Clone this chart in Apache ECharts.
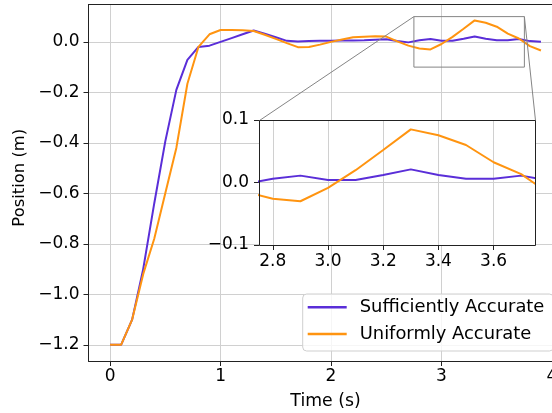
<!DOCTYPE html>
<html>
<head>
<meta charset="utf-8">
<script src="https://cdn.jsdelivr.net/npm/echarts@6/dist/echarts.min.js"></script>
<style>
  html, body { margin: 0; padding: 0; background: #ffffff; }
  #chart { width: 552px; height: 413px; }
</style>
</head>
<body>
<div id="chart"></div>
<script>
// Sample times (s)
const times = [0.0, 0.1, 0.2, 0.3, 0.4, 0.5, 0.6, 0.7, 0.8, 0.9,
               1.0, 1.1, 1.2, 1.3, 1.4, 1.5, 1.6, 1.7, 1.8, 1.9,
               2.0, 2.1, 2.2, 2.3, 2.4, 2.5, 2.6, 2.7, 2.8, 2.9,
               3.0, 3.1, 3.2, 3.3, 3.4, 3.5, 3.6, 3.7, 3.8, 3.9];

// Position (m) for each controller
const sufficientlyAccurate = [-1.2, -1.2, -1.1, -0.9, -0.64, -0.394, -0.19, -0.071, -0.02, -0.015,
                              0.0, 0.015, 0.03, 0.045, 0.032, 0.018, 0.004, 0.001, 0.003, 0.004,
                              0.004, 0.005, 0.005, 0.006, 0.008, 0.01, 0.003, -0.002, 0.006, 0.011,
                              0.004, 0.004, 0.012, 0.021, 0.012, 0.006, 0.006, 0.011, 0.003, 0.0];
const uniformlyAccurate = [-1.2, -1.2, -1.1, -0.92, -0.78, -0.6, -0.42, -0.166, -0.02, 0.03,
                           0.047, 0.047, 0.046, 0.043, 0.028, 0.012, -0.005, -0.021, -0.02, -0.011,
                           0.0, 0.009, 0.018, 0.02, 0.022, 0.021, 0.002, -0.015, -0.026, -0.03,
                           -0.0085, 0.0197, 0.052, 0.085, 0.0755, 0.06, 0.0324, 0.0133, -0.017, -0.034];

const seriesNames = ['Sufficiently Accurate', 'Uniformly Accurate'];
const seriesColors = ['#5a2ed8', '#ff9410'];

// Axis ranges and ticks
const mainXRange = [-0.195, 4.095];
const mainYRange = [-1.264, 0.148];
const mainXTicks = [0, 1, 2, 3, 4];
const mainYTicks = [-1.2, -1.0, -0.8, -0.6, -0.4, -0.2, 0.0];

// Zoomed window shown in the inset
const zoomX = [2.75, 3.75];
const zoomY = [-0.1, 0.1];
const insetXTicks = [2.8, 3.0, 3.2, 3.4, 3.6];
const insetYTicks = [-0.1, 0.0, 0.1];

const FONT = 'DejaVu Sans';
const TICK_FS = 17;
const LEGEND_FS = 17.9;
const SPINE = '#222222';
const GRID = '#d0d0d0';
const GRAY = '#858585';

const pairs = (vals) => times.map((t, i) => [t, vals[i]]);
const fmt1 = (v) => (Math.abs(v) < 1e-9 ? '0.0' : v.toFixed(1)).replace('-', '\u2212');
const fmt0 = (v) => String(Math.round(v)).replace('-', '\u2212');

const tickStyle = { fontFamily: FONT, fontSize: TICK_FS, color: '#000000' };

function valueAxis(opts) {
  return Object.assign({
    type: 'value',
    axisLine: { show: false, onZero: false },
    axisTick: { show: true, inside: false, length: 5, lineStyle: { color: SPINE, width: 1 } },
    splitLine: { show: true, lineStyle: { color: GRID, width: 1 } },
  }, opts);
}

const chart = echarts.init(document.getElementById('chart'), null, { renderer: 'canvas' });

const option = {
  animation: false,
  backgroundColor: '#ffffff',
  grid: [
    // main axes run past the right edge of the canvas
    { left: 88.5, top: 4.5, width: 474, height: 356.5, show: false, containLabel: false, outerBoundsMode: 'none' },
    { left: 259, top: 120, width: 276, height: 125, show: true, backgroundColor: '#ffffff', borderWidth: 0, z: 5,
      containLabel: false, outerBoundsMode: 'none' }
  ],
  xAxis: [
    valueAxis({
      gridIndex: 0, min: mainXRange[0], max: mainXRange[1],
      axisLine: { show: true, onZero: false, lineStyle: { color: SPINE, width: 1 } },
      axisTick: { show: true, inside: false, length: 5, customValues: mainXTicks, lineStyle: { color: SPINE, width: 1 } },
      axisLabel: Object.assign({ customValues: mainXTicks, margin: 7, formatter: fmt0, hideOverlap: false }, tickStyle),
      name: 'Time (s)', nameLocation: 'middle', nameGap: 32,
      nameTextStyle: { fontFamily: FONT, fontSize: 17.3, color: '#000000' }
    }),
    // top spine of the main axes
    {
      type: 'value', gridIndex: 0, position: 'top', min: mainXRange[0], max: mainXRange[1],
      axisLine: { show: true, onZero: false, lineStyle: { color: SPINE, width: 1 } },
      axisTick: { show: false }, axisLabel: { show: false }, splitLine: { show: false }
    },
    valueAxis({
      gridIndex: 1, min: zoomX[0], max: zoomX[1], z: 6,
      axisTick: { show: true, inside: false, length: 5, customValues: insetXTicks, lineStyle: { color: SPINE, width: 1 } },
      axisLabel: Object.assign({ customValues: insetXTicks, margin: 8, formatter: fmt1 }, tickStyle)
    })
  ],
  yAxis: [
    valueAxis({
      gridIndex: 0, min: mainYRange[0], max: mainYRange[1],
      axisLine: { show: true, onZero: false, lineStyle: { color: SPINE, width: 1 } },
      axisTick: { show: true, inside: false, length: 5, customValues: mainYTicks, lineStyle: { color: SPINE, width: 1 } },
      axisLabel: Object.assign({ customValues: mainYTicks, margin: 9, formatter: fmt1 }, tickStyle),
      name: 'Position (m)', nameLocation: 'middle', nameGap: 56,
      nameTextStyle: { fontFamily: FONT, fontSize: 16.4, color: '#000000', padding: [0, 0, 0, 10] }
    }),
    valueAxis({
      gridIndex: 1, min: zoomY[0], max: zoomY[1], z: 6,
      axisTick: { show: true, inside: false, length: 5, customValues: insetYTicks, lineStyle: { color: SPINE, width: 1 } },
      axisLabel: Object.assign({ customValues: insetYTicks, margin: 10, formatter: fmt1 }, tickStyle)
    })
  ],
  legend: {
    data: seriesNames,
    orient: 'vertical',
    left: 302.7, top: 294,
    icon: 'rect',
    itemWidth: 39, itemHeight: 2.6, itemGap: 6.7,
    padding: [3.3, 9, 7, 5],
    backgroundColor: 'rgba(255,255,255,0.8)',
    borderColor: '#cfcfcf', borderWidth: 1, borderRadius: 4,
    textStyle: { fontFamily: FONT, fontSize: LEGEND_FS, color: '#000000', lineHeight: 20, padding: [0, 0, 0, 8] }
  },
  series: [
    {
      name: seriesNames[0], type: 'line', xAxisIndex: 0, yAxisIndex: 0,
      data: pairs(sufficientlyAccurate), symbol: 'none', z: 2,
      lineStyle: { color: seriesColors[0], width: 2 }, itemStyle: { color: seriesColors[0] }
    },
    {
      name: seriesNames[1], type: 'line', xAxisIndex: 0, yAxisIndex: 0,
      data: pairs(uniformlyAccurate), symbol: 'none', z: 3,
      lineStyle: { color: seriesColors[1], width: 2 }, itemStyle: { color: seriesColors[1] }
    },
    // outline of the zoomed window
    {
      type: 'line', xAxisIndex: 0, yAxisIndex: 0, symbol: 'none', z: 4, silent: true,
      data: [[zoomX[0], zoomY[1]], [zoomX[1], zoomY[1]], [zoomX[1], zoomY[0]], [zoomX[0], zoomY[0]], [zoomX[0], zoomY[1]]],
      lineStyle: { color: GRAY, width: 1 }
    },
    {
      name: seriesNames[0], type: 'line', xAxisIndex: 2, yAxisIndex: 1,
      data: pairs(sufficientlyAccurate), symbol: 'none', z: 7, clip: true,
      lineStyle: { color: seriesColors[0], width: 2 }, itemStyle: { color: seriesColors[0] }
    },
    {
      name: seriesNames[1], type: 'line', xAxisIndex: 2, yAxisIndex: 1,
      data: pairs(uniformlyAccurate), symbol: 'none', z: 8, clip: true,
      lineStyle: { color: seriesColors[1], width: 2 }, itemStyle: { color: seriesColors[1] }
    }
  ]
};

chart.setOption(option);

// Connector lines from the zoom window to the inset, plus the inset frame
const mainTL = chart.convertToPixel({ gridIndex: 0 }, [zoomX[0], zoomY[1]]);
const mainTR = chart.convertToPixel({ gridIndex: 0 }, [zoomX[1], zoomY[1]]);
const insTL = chart.convertToPixel({ gridIndex: 1 }, [zoomX[0], zoomY[1]]);
const insBR = chart.convertToPixel({ gridIndex: 1 }, [zoomX[1], zoomY[0]]);
const crisp = (v) => Math.round(v - 0.5) + 0.5;
const fx0 = crisp(insTL[0]), fy0 = crisp(insTL[1]), fx1 = crisp(insBR[0]), fy1 = crisp(insBR[1]);

chart.setOption({
  graphic: [
    { type: 'line', z: 20, silent: true,
      shape: { x1: mainTL[0], y1: mainTL[1], x2: fx0, y2: fy0 },
      style: { stroke: GRAY, lineWidth: 1 } },
    { type: 'line', z: 20, silent: true,
      shape: { x1: mainTR[0], y1: mainTR[1], x2: fx1, y2: fy0 },
      style: { stroke: GRAY, lineWidth: 1 } },
    { type: 'rect', z: 30, silent: true,
      shape: { x: fx0, y: fy0, width: fx1 - fx0, height: fy1 - fy0 },
      style: { fill: null, stroke: SPINE, lineWidth: 1 } }
  ]
});
</script>
</body>
</html>
